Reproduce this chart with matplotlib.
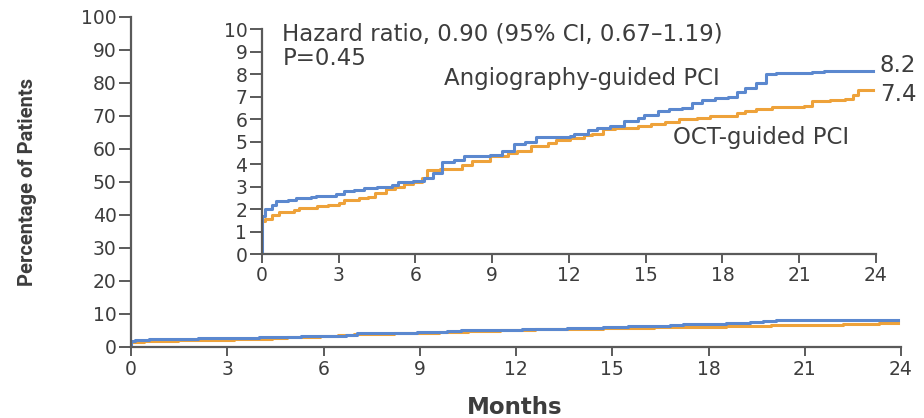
import numpy as np
import matplotlib
matplotlib.use('Agg')
import matplotlib.pyplot as plt

# Kaplan-Meier style cumulative incidence (months, %)
angio_months = [0, 0.0, 0.12, 0.4, 0.55, 1.0, 1.35, 1.9, 2.1, 2.9, 3.2, 3.6, 4.0, 4.5, 5.1, 5.3,
                5.9, 6.35, 6.7, 7.05, 7.5, 7.9, 8.9, 9.4, 9.85, 10.3, 10.7, 12.05, 12.2, 12.75,
                13.1, 13.6, 14.15, 14.7, 14.95, 15.5, 15.9, 16.4, 16.8, 17.2, 17.7, 18.2, 18.55,
                18.9, 19.3, 19.7, 20.1, 21.5, 21.95, 23.9]
angio_pct = [0, 1.7, 2.0, 2.2, 2.35, 2.4, 2.5, 2.55, 2.6, 2.65, 2.8, 2.85, 2.95, 3.0, 3.05, 3.2,
             3.25, 3.4, 3.6, 4.1, 4.2, 4.35, 4.4, 4.6, 4.9, 5.0, 5.2, 5.25, 5.35, 5.5,
             5.6, 5.7, 5.9, 6.05, 6.2, 6.35, 6.45, 6.5, 6.7, 6.85, 6.95, 7.0, 7.2,
             7.4, 7.6, 8.0, 8.05, 8.1, 8.15, 8.15]

oct_months = [0, 0.12, 0.4, 0.65, 1.25, 1.45, 2.15, 2.6, 3.0, 3.2, 3.8, 4.15, 4.4, 4.85, 5.2,
              5.55, 5.9, 6.25, 6.45, 6.95, 7.8, 8.2, 8.9, 9.6, 9.95, 10.5, 11.2, 11.5, 12.05,
              12.6, 12.9, 13.35, 13.8, 14.7, 15.2, 15.75, 16.3, 17.0, 17.5, 18.55, 18.9, 19.3,
              19.95, 21.2, 21.5, 22.2, 22.8, 23.1, 23.3, 23.9]
oct_pct = [1.45, 1.55, 1.75, 1.85, 1.95, 2.05, 2.15, 2.2, 2.25, 2.4, 2.5, 2.55, 2.7, 2.9, 3.0,
           3.1, 3.2, 3.4, 3.75, 3.8, 3.95, 4.15, 4.35, 4.5, 4.6, 4.8, 4.95, 5.05, 5.15,
           5.3, 5.35, 5.55, 5.6, 5.7, 5.8, 5.85, 6.0, 6.05, 6.15, 6.25, 6.35, 6.45,
           6.55, 6.6, 6.8, 6.85, 6.9, 7.05, 7.3, 7.3]

x_ticks = [0, 3, 6, 9, 12, 15, 18, 21, 24]
main_y_ticks = list(range(0, 101, 10))
inset_y_ticks = list(range(0, 11))

BLUE = "#5b88cf"
ORANGE = "#eea23a"
AXIS = "#5a5a5a"
TEXT = "#3d3d3d"

plt.rcParams['font.family'] = ['DejaVu Sans']

fig = plt.figure(figsize=(9.24, 4.18), dpi=100)
fig.patch.set_facecolor("white")


def style_axes(ax, labelsize, xpad):
    for side in ("top", "right"):
        ax.spines[side].set_visible(False)
    for side in ("left", "bottom"):
        ax.spines[side].set_color(AXIS)
        ax.spines[side].set_linewidth(1.6)
    ax.tick_params(direction="out", width=1.4, color=AXIS,
                   labelcolor=TEXT, labelsize=labelsize)
    ax.tick_params(axis="y", length=8.5, pad=2)
    ax.tick_params(axis="x", length=6.5, pad=xpad)


# main panel
ax = fig.add_axes([0.1418, 0.1699, 0.8333, 0.7895])
ax.step(oct_months, oct_pct, where="post", color=ORANGE, lw=2.2)
ax.step(angio_months, angio_pct, where="post", color=BLUE, lw=2.2)
ax.set_xlim(0, 24)
ax.set_ylim(0, 100)
ax.set_xticks(x_ticks)
ax.set_yticks(main_y_ticks)
style_axes(ax, 13.5, 3)
ax.set_xlabel("Months", fontsize=16.5, fontweight="bold", color=TEXT)
ax.xaxis.set_label_coords(0.4987, -0.148)
ax.set_ylabel("Percentage of Patients", fontsize=14.5, color=TEXT, fontweight="semibold",
              family=['Roboto', 'DejaVu Sans'])
ax.yaxis.set_label_coords(-0.122, 0.5)

# inset zoom
ins = fig.add_axes([0.2835, 0.3923, 0.6645, 0.5383])
ins.step(oct_months, oct_pct, where="post", color=ORANGE, lw=2.2)
ins.step(angio_months, angio_pct, where="post", color=BLUE, lw=2.2)
ins.set_xlim(0, 24)
ins.set_ylim(0, 10)
ins.set_xticks(x_ticks)
ins.set_yticks(inset_y_ticks)
style_axes(ins, 13.5, 2)
ins.patch.set_alpha(0)

ins.text(0.8, 9.75, "Hazard ratio, 0.90 (95% CI, 0.67\u20131.19)", fontsize=16.5,
         color=TEXT, va="center")
ins.text(0.8, 8.7, "P=0.45", fontsize=16.5, color=TEXT, va="center")
ins.text(7.1, 7.8, "Angiography-guided PCI", fontsize=16.5, color=TEXT, va="center")
ins.text(16.05, 5.2, "OCT-guided PCI", fontsize=16.5, color=TEXT, va="center")
ins.text(24.15, 8.4, "8.2", fontsize=16.5, color=TEXT, va="center", clip_on=False)
ins.text(24.15, 7.07, "7.4", fontsize=16.5, color=TEXT, va="center", clip_on=False)

fig.savefig("out.png", dpi=100, facecolor="white")
